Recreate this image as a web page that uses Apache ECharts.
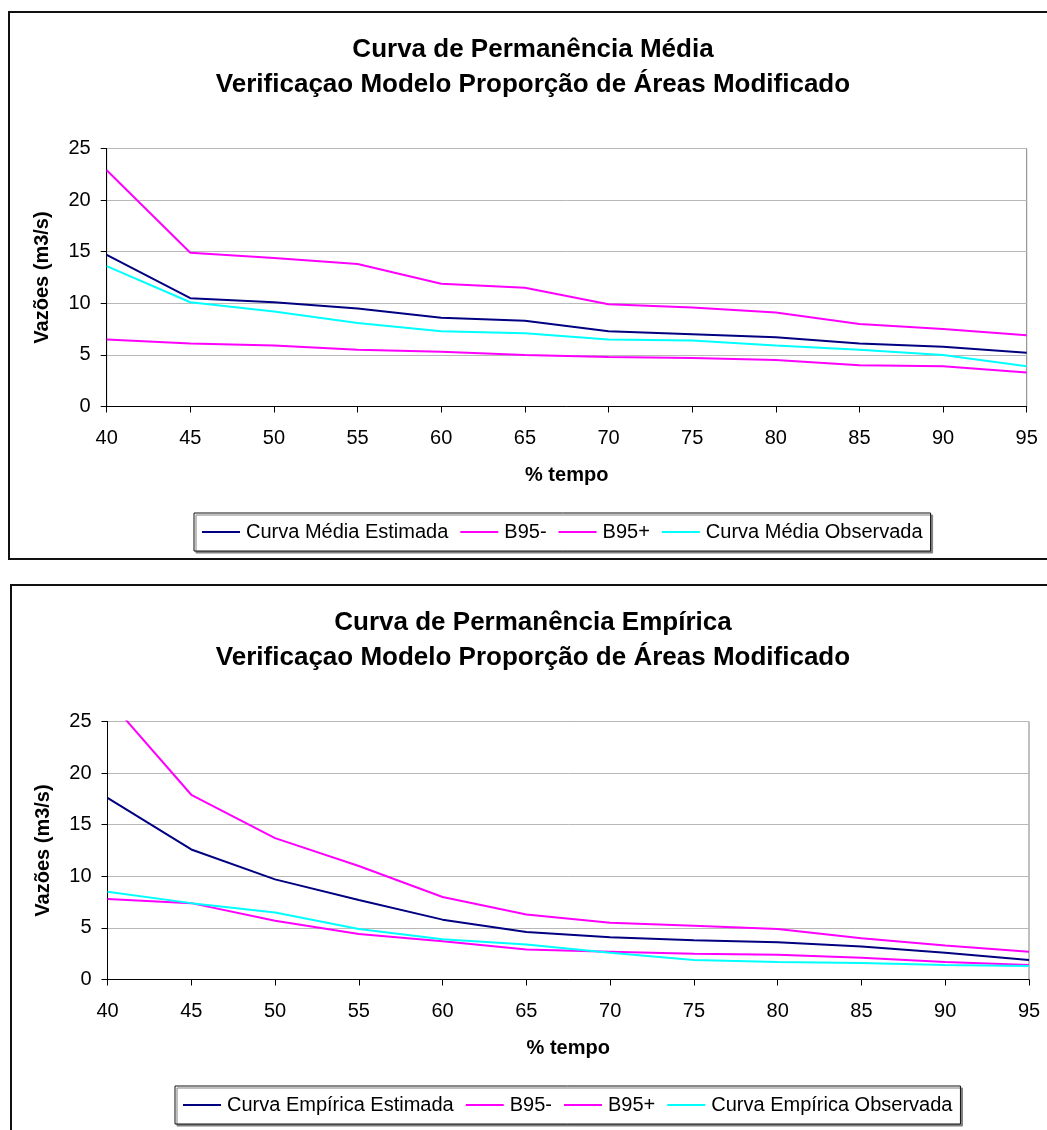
<!DOCTYPE html>
<html>
<head>
<meta charset="utf-8">
<script src="https://cdn.jsdelivr.net/npm/echarts@6/dist/echarts.min.js"></script>
<style>
  html, body { margin: 0; padding: 0; background: #fff; overflow: hidden; }
  #chartMedia { position: absolute; left: 0; top: 0; width: 1047px; height: 573px; }
  #chartEmpirica { position: absolute; left: 0; top: 573px; width: 1047px; height: 557px; }
</style>
</head>
<body>
<div id="chartMedia"></div>
<div id="chartEmpirica"></div>
<script>
// Percent of time (x axis)
const tempo = [40, 45, 50, 55, 60, 65, 70, 75, 80, 85, 90, 95];

// Mean duration curve (m3/s)
const mediaEstimada  = [14.7, 10.5, 10.1, 9.5, 8.6, 8.3, 7.3, 7.0, 6.7, 6.1, 5.8, 5.2];
const mediaB95Minus  = [6.5, 6.1, 5.9, 5.5, 5.3, 5.0, 4.8, 4.7, 4.5, 4.0, 3.9, 3.3];
const mediaB95Plus   = [22.9, 14.9, 14.4, 13.8, 11.9, 11.5, 9.9, 9.6, 9.1, 8.0, 7.5, 6.9];
const mediaObservada = [13.6, 10.1, 9.2, 8.1, 7.3, 7.1, 6.5, 6.4, 5.9, 5.5, 5.0, 3.9];

// Empirical duration curve (m3/s)
const empiricaEstimada  = [17.6, 12.6, 9.7, 7.7, 5.8, 4.6, 4.1, 3.8, 3.6, 3.2, 2.6, 1.9];
const empiricaB95Minus  = [7.8, 7.4, 5.7, 4.4, 3.7, 2.9, 2.7, 2.5, 2.4, 2.1, 1.7, 1.4];
const empiricaB95Plus   = [27.2, 17.9, 13.7, 11.0, 8.0, 6.3, 5.5, 5.2, 4.9, 4.0, 3.3, 2.7];
const empiricaObservada = [8.5, 7.4, 6.5, 4.9, 3.9, 3.4, 2.6, 1.9, 1.7, 1.6, 1.4, 1.3];

// Axis ticks
const yTicks = [0, 5, 10, 15, 20, 25];

const FONT = '"Liberation Sans", Arial, sans-serif';
const NAVY = '#000080', MAGENTA = '#ff00ff', CYAN = '#00ffff';

function pairs(values) {
  return tempo.map((t, i) => [t, values[i]]);
}

function lineSeries(name, values, color) {
  return {
    name: name,
    type: 'line',
    data: pairs(values),
    symbol: 'none',
    clip: true,
    lineStyle: { color: color, width: 2 },
    itemStyle: { color: color },
    emphasis: { disabled: true },
    animation: false
  };
}

function buildChart(el, cfg) {
  const chart = echarts.init(el, null, { renderer: 'canvas' });
  chart.setOption({
    backgroundColor: '#fff',
    animation: false,
    graphic: [{
      type: 'rect',
      shape: { x: cfg.boxX, y: 12, width: 1100, height: 547 },
      style: { fill: 'none', stroke: '#111', lineWidth: 2 },
      silent: true,
      z: -1
    }],
    title: {
      text: cfg.title,
      left: 528,
      top: 27,
      textAlign: 'center',
      textStyle: { fontFamily: FONT, fontSize: 26, fontWeight: 'bold', color: '#000', lineHeight: 35 }
    },
    legend: {
      left: cfg.legendLeft,
      top: 513,
      orient: 'horizontal',
      icon: 'rect',
      itemWidth: 38,
      itemHeight: 2,
      itemGap: 12,
      padding: [9, 8, 9, 8],
      backgroundColor: '#fff',
      borderColor: '#111',
      borderWidth: 1,
      shadowColor: '#808080',
      shadowOffsetX: 2,
      shadowOffsetY: 2,
      shadowBlur: 0,
      selectedMode: false,
      textStyle: { fontFamily: FONT, fontSize: 20, color: '#000', padding: [0, 0, 0, 1] },
      data: cfg.series.map(s => s.name)
    },
    grid: {
      left: cfg.gridLeft,
      right: cfg.gridRight,
      top: 148.5,
      height: 258,
      show: true,
      borderColor: '#808080',
      borderWidth: 1,
      backgroundColor: '#fff'
    },
    xAxis: {
      type: 'value',
      min: tempo[0],
      max: tempo[tempo.length - 1],
      interval: 5,
      name: '% tempo',
      nameLocation: 'middle',
      nameGap: 59,
      nameTextStyle: { fontFamily: FONT, fontSize: 20, fontWeight: 'bold', color: '#000' },
      axisLine: { lineStyle: { color: '#000', width: 1 } },
      axisTick: { inside: false, length: 6, lineStyle: { color: '#000' } },
      axisLabel: { margin: 22, fontFamily: FONT, fontSize: 20, color: '#000' },
      splitLine: { show: false }
    },
    yAxis: {
      type: 'value',
      min: yTicks[0],
      max: yTicks[yTicks.length - 1],
      interval: 5,
      name: 'Vazões (m3/s)',
      nameLocation: 'middle',
      nameGap: 54,
      nameRotate: 90,
      nameTextStyle: { fontFamily: FONT, fontSize: 20, fontWeight: 'bold', color: '#000' },
      axisLine: { show: true, lineStyle: { color: '#000', width: 1 } },
      axisTick: { show: true, inside: false, length: 6, lineStyle: { color: '#000' } },
      axisLabel: { margin: 16, fontFamily: FONT, fontSize: 20, color: '#000' },
      splitLine: { show: true, lineStyle: { color: '#b8b8b8', width: 1 } }
    },
    series: cfg.series
  });
  return chart;
}

buildChart(document.getElementById('chartMedia'), {
  title: 'Curva de Permanência Média\nVerificaçao Modelo Proporção de Áreas Modificado',
  boxX: 9,
  gridLeft: 106.7,
  gridRight: 20.3,
  legendLeft: 194,
  series: [
    lineSeries('Curva Média Estimada', mediaEstimada, NAVY),
    lineSeries('B95-', mediaB95Minus, MAGENTA),
    lineSeries('B95+', mediaB95Plus, MAGENTA),
    lineSeries('Curva Média Observada', mediaObservada, CYAN)
  ]
});

buildChart(document.getElementById('chartEmpirica'), {
  title: 'Curva de Permanência Empírica\nVerificaçao Modelo Proporção de Áreas Modificado',
  boxX: 11,
  gridLeft: 107.5,
  gridRight: 18,
  legendLeft: 175,
  series: [
    lineSeries('Curva Empírica Estimada', empiricaEstimada, NAVY),
    lineSeries('B95-', empiricaB95Minus, MAGENTA),
    lineSeries('B95+', empiricaB95Plus, MAGENTA),
    lineSeries('Curva Empírica Observada', empiricaObservada, CYAN)
  ]
});
</script>
</body>
</html>
